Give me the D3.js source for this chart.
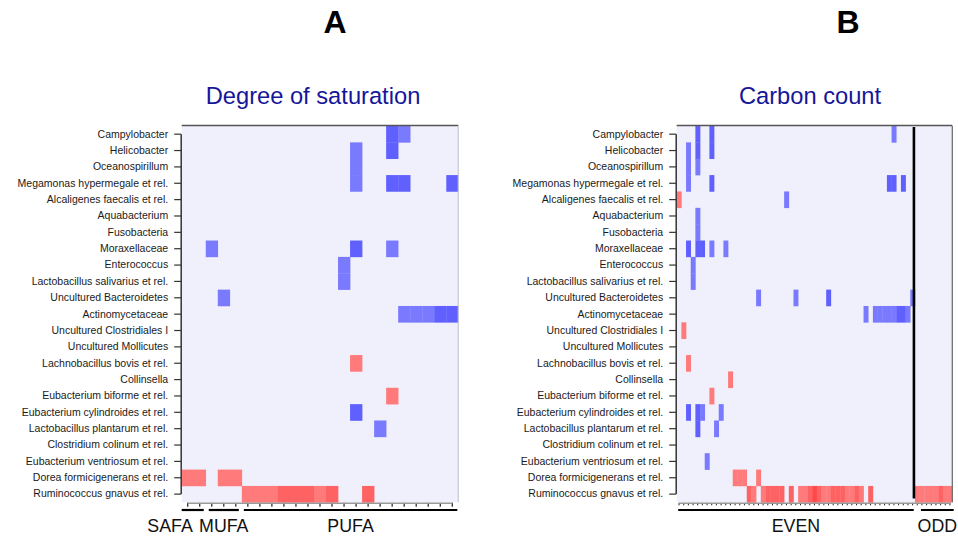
<!DOCTYPE html>
<html>
<head>
<meta charset="utf-8">
<script src="https://cdn.jsdelivr.net/npm/d3@7"></script>
<style>
  body { margin: 0; background: #fff; }
  svg { display: block; font-family: "Liberation Sans", Arial, sans-serif; }
</style>
</head>
<body>
<svg></svg>
<script>
// Taxa (rows), shared by both panels
const taxa = [
  "Campylobacter", "Helicobacter", "Oceanospirillum", "Megamonas hypermegale et rel.",
  "Alcaligenes faecalis et rel.", "Aquabacterium", "Fusobacteria", "Moraxellaceae",
  "Enterococcus", "Lactobacillus salivarius et rel.", "Uncultured Bacteroidetes",
  "Actinomycetaceae", "Uncultured Clostridiales I", "Uncultured Mollicutes",
  "Lachnobacillus bovis et rel.", "Collinsella", "Eubacterium biforme et rel.",
  "Eubacterium cylindroides et rel.", "Lactobacillus plantarum et rel.",
  "Clostridium colinum et rel.", "Eubacterium ventriosum et rel.",
  "Dorea formicigenerans et rel.", "Ruminococcus gnavus et rel."
];

// column groups
const groupsA = [["SAFA", 2], ["MUFA", 3], ["PUFA", 18]];
const groupsB = [["EVEN", 51], ["ODD", 8]];

// cells: [taxon index, column, score]  (negative = blue, positive = red)
const cellsA = [
  [0, 17, -2], [0, 18, -1],
  [1, 14, -1], [1, 17, -2],
  [2, 14, -1],
  [3, 14, -1], [3, 17, -2], [3, 18, -2], [3, 22, -2],
  [7, 2, -1], [7, 14, -2], [7, 17, -1],
  [8, 13, -1], [9, 13, -1],
  [10, 3, -1],
  [11, 18, -1], [11, 19, -1], [11, 20, -1], [11, 21, -2], [11, 22, -2],
  [14, 14, 1],
  [16, 17, 1],
  [17, 14, -2],
  [18, 16, -1],
  [21, 0, 1], [21, 1, 1], [21, 3, 1], [21, 4, 1],
  [22, 5, 1], [22, 6, 1], [22, 7, 1], [22, 8, 2], [22, 9, 2], [22, 10, 2],
  [22, 11, 1], [22, 12, 2], [22, 15, 2]
];

const cellsB = [
  [0, 4, -2], [0, 7, -2], [0, 46, -1],
  [1, 2, -1], [1, 4, -2], [1, 7, -2],
  [2, 2, -1], [2, 4, -1],
  [3, 2, -1], [3, 7, -2], [3, 45, -2], [3, 46, -2], [3, 48, -2],
  [4, 0, 1], [4, 23, -1],
  [5, 4, -1], [6, 4, -1],
  [7, 2, -2], [7, 4, -2], [7, 5, -2], [7, 7, -1], [7, 10, -1],
  [8, 3, -1], [9, 3, -1],
  [10, 17, -1], [10, 25, -1], [10, 32, -2], [10, 50, -1],
  [11, 40, -1], [11, 42, -1], [11, 43, -1], [11, 44, -1], [11, 45, -1], [11, 46, -1],
  [11, 47, -2], [11, 48, -2], [11, 49, -1],
  [12, 1, 1],
  [14, 2, 1],
  [15, 11, 1],
  [16, 7, 1],
  [17, 2, -2], [17, 4, -2], [17, 5, -1], [17, 9, -1],
  [18, 4, -2], [18, 8, -1],
  [20, 6, -1],
  [21, 12, 1], [21, 13, 1], [21, 14, 1], [21, 17, 1],
  [22, 15, 2], [22, 16, 1], [22, 18, 1], [22, 19, 2], [22, 20, 2], [22, 21, 2], [22, 22, 2],
  [22, 24, 2], [22, 26, 1], [22, 27, 1], [22, 28, 2], [22, 29, 3], [22, 30, 2],
  [22, 31, 1], [22, 32, 1], [22, 33, 2], [22, 34, 2], [22, 35, 2], [22, 36, 1],
  [22, 37, 1], [22, 38, 2], [22, 39, 1], [22, 41, 2],
  [22, 51, 1], [22, 52, 1], [22, 53, 1], [22, 54, 1], [22, 55, 1], [22, 56, 2],
  [22, 57, 1], [22, 58, 1]
];

const width = 958, height = 538;
const font = '"Liberation Sans", Arial, sans-serif';
const svg = d3.select("svg").attr("width", width).attr("height", height);

const color = d3.scaleOrdinal()
  .domain([-2, -1, 1, 2, 3])
  .range(["#6060ff", "#7a7aff", "#ff7a7a", "#ff6262", "#ff4848"]);

const y = d3.scaleBand().domain(d3.range(taxa.length)).range([126, 502.3]);

function panel(opts) {
  const nCols = d3.sum(opts.groups, d => d[1]);
  const x = d3.scaleBand().domain(d3.range(nCols)).range([opts.x0, opts.x1]);
  const g = svg.append("g");
  const [yTop, yBot] = y.range();

  // background
  g.append("rect")
    .attr("x", opts.x0).attr("y", yTop)
    .attr("width", opts.x1 - opts.x0).attr("height", yBot - yTop)
    .attr("fill", "#f0f0fc");

  // cells
  g.selectAll("rect.cell")
    .data(opts.cells)
    .enter().append("rect")
    .attr("class", "cell")
    .attr("x", d => x(d[1]))
    .attr("y", d => y(d[0]))
    .attr("width", x.bandwidth() + 0.3)
    .attr("height", y.bandwidth() + 0.3)
    .attr("fill", d => color(d[2]));

  // frame top + right
  g.append("line")
    .attr("x1", opts.x0).attr("x2", opts.x1)
    .attr("y1", yTop - 0.5).attr("y2", yTop - 0.5)
    .attr("stroke", "#555").attr("stroke-width", 1.5);
  g.append("line")
    .attr("x1", opts.x1).attr("x2", opts.x1)
    .attr("y1", yTop).attr("y2", yBot)
    .attr("stroke", opts.rightStroke).attr("stroke-width", 1.2);

  // left axis
  const yAxis = d3.axisLeft(y)
    .tickFormat(i => taxa[i])
    .tickSize(7)
    .tickPadding(6);
  const ya = g.append("g")
    .attr("transform", `translate(${opts.x0 - 0.5},0)`)
    .call(yAxis)
    .attr("font-family", font);
  ya.select(".domain").remove();
  ya.selectAll(".tick line").attr("stroke", "#333").attr("stroke-width", 1.2);
  ya.selectAll(".tick text")
    .attr("fill", "#1a1a1a")
    .style("font-size", "10.5px");
  ya.append("line")
    .attr("x1", 0).attr("x2", 0)
    .attr("y1", y(0) + y.bandwidth() / 2)
    .attr("y2", y(taxa.length - 1) + y.bandwidth() / 2)
    .attr("stroke", "#333").attr("stroke-width", 1.5);

  // bottom axis
  const xAxis = d3.axisBottom(x).tickFormat("").tickSize(opts.tick);
  const xa = g.append("g")
    .attr("transform", `translate(0,${yBot + 0.5})`)
    .call(xAxis);
  xa.select(".domain").remove();
  xa.selectAll(".tick line").attr("stroke", "#222").attr("stroke-width", opts.tickW);
  xa.append("line")
    .attr("x1", x(0) + x.bandwidth() / 2)
    .attr("x2", x(nCols - 1) + x.bandwidth() / 2)
    .attr("y1", 0.5).attr("y2", 0.5)
    .attr("stroke", "#999").attr("stroke-width", 1.5);

  // group brackets + labels
  let start = 0;
  opts.groups.forEach((grp, k) => {
    const end = start + grp[1];
    const inset = opts.insets[k];
    const bx0 = x(start) + inset[0];
    const bx1 = (end >= nCols ? opts.x1 : x(end)) + inset[1];
    g.append("line")
      .attr("x1", bx0).attr("x2", bx1)
      .attr("y1", 510).attr("y2", 510)
      .attr("stroke", "#000").attr("stroke-width", 2.2);
    const lbl = g.append("text")
      .attr("y", 531.7)
      .attr("fill", "#111")
      .style("font-size", "17.8px")
      .text(grp[0]);
    if (opts.anchorEnd && opts.anchorEnd[k]) {
      lbl.attr("x", bx1 - 11).attr("text-anchor", "end");
    } else {
      lbl.attr("x", (bx0 + bx1) / 2).attr("text-anchor", "middle");
    }
    start = end;
  });

  // title
  g.append("text")
    .attr("x", (opts.x0 + opts.x1) / 2 + opts.titleDx)
    .attr("y", 104)
    .attr("text-anchor", "middle")
    .attr("fill", "#16169a")
    .style("font-size", "23.7px")
    .text(opts.title);

  // panel letter
  g.append("text")
    .attr("x", opts.letterX)
    .attr("y", 33)
    .attr("text-anchor", "middle")
    .attr("fill", "#000")
    .style("font-size", "32px")
    .style("font-weight", "bold")
    .text(opts.letter);

  return x;
}

panel({
  x0: 181.7, x1: 458.3, groups: groupsA, cells: cellsA,
  title: "Degree of saturation", titleDx: -7, letter: "A", letterX: 335,
  rightStroke: "#c8c8d0", tick: 4, tickW: 1.2,
  insets: [[0, -2], [3, -3], [2, -1]], anchorEnd: [true, false, false]
});

const xB = panel({
  x0: 676.7, x1: 952.3, groups: groupsB, cells: cellsB,
  title: "Carbon count", titleDx: -4.5, letter: "B", letterX: 848,
  rightStroke: "#666", tick: 2.5, tickW: 1,
  insets: [[1.5, -1.2], [6, 1.4]]
});

// EVEN / ODD divider
const split = xB(groupsB[0][1]);
svg.append("line")
  .attr("x1", split - 1).attr("x2", split - 1)
  .attr("y1", 127).attr("y2", 498.5)
  .attr("stroke", "#000").attr("stroke-width", 2.6);
</script>
</body>
</html>
